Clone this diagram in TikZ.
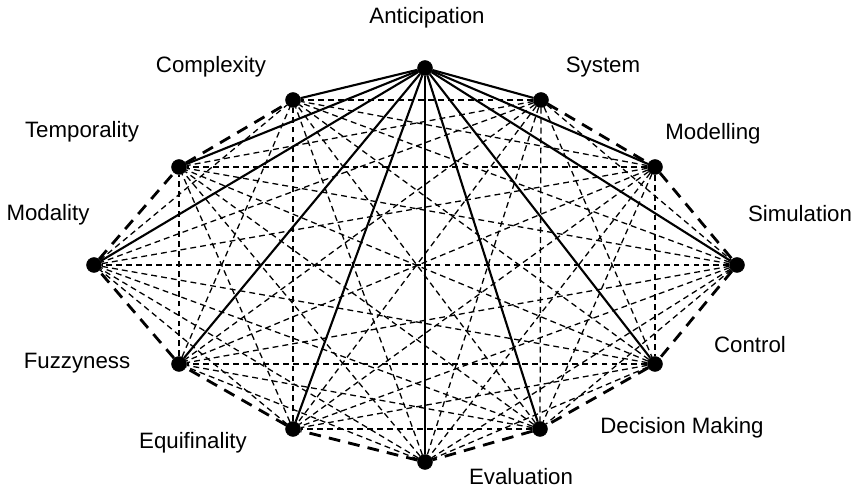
\documentclass[tikz,border=0pt]{standalone}
\usepackage{fontspec}
\setmainfont{Liberation Sans}
\begin{document}
\begin{tikzpicture}[x=0.03cm, y=-0.03cm,
    dot/.style={draw, circle, fill=black, inner sep=0pt, minimum size=0.45cm},
    lbl/.style={font=\fontsize{19}{22}\selectfont, inner sep=0pt},
    spoke/.style={line width=1.8pt},
    rim/.style={line width=2.4pt, dash pattern=on 10pt off 7pt},
    web/.style={line width=1.1pt, dash pattern=on 5pt off 3.5pt}]
            \useasboundingbox (0,0) rectangle (857,489);
            % Concept nodes
            \node[dot] (n0) at (425, 68) {};
            \node[dot] (n1) at (541, 100) {};
            \node[dot] (n2) at (655, 167) {};
            \node[dot] (n3) at (737, 265) {};
            \node[dot] (n4) at (655, 364) {};
            \node[dot] (n5) at (540, 429) {};
            \node[dot] (n6) at (425, 462) {};
            \node[dot] (n7) at (293, 429) {};
            \node[dot] (n8) at (179, 364) {};
            \node[dot] (n9) at (94, 265) {};
            \node[dot] (n10) at (179, 167) {};
            \node[dot] (n11) at (293, 100) {};

            % Labels
            \node[lbl] (l0) at (427, 18) {Anticipation};
            \node[lbl] (l1) at (603, 67) {System};
            \node[lbl] (l2) at (713, 134) {Modelling};
            \node[lbl] (l3) at (800, 214) {Simulation};
            \node[lbl] (l4) at (750, 345) {Control};
            \node[lbl] (l5) at (682, 428) {Decision Making};
            \node[lbl] (l6) at (521, 477) {Evaluation};
            \node[lbl] (l7) at (193, 443) {Equifinality};
            \node[lbl] (l8) at (77, 363) {Fuzzyness};
            \node[lbl] (l9) at (48, 215) {Modality};
            \node[lbl] (l10) at (82, 132) {Temporality};
            \node[lbl] (l11) at (211, 67) {Complexity};

            % Inner links
            \foreach \i in {1,...,9}{
                \pgfmathtruncatemacro{\k}{\i+2}
                \foreach \j in {\k,...,11}
                    \draw [web] (n\i) -- (n\j);
            }
            % Rim
            \foreach \i [evaluate=\i as \j using int(\i+1)] in {1,...,10}
                \draw [rim] (n\i) -- (n\j);
            % Anticipation spokes
            \foreach \j in {1,...,11}
                \draw [spoke] (n0) -- (n\j);
        \end{tikzpicture}
\end{document}
